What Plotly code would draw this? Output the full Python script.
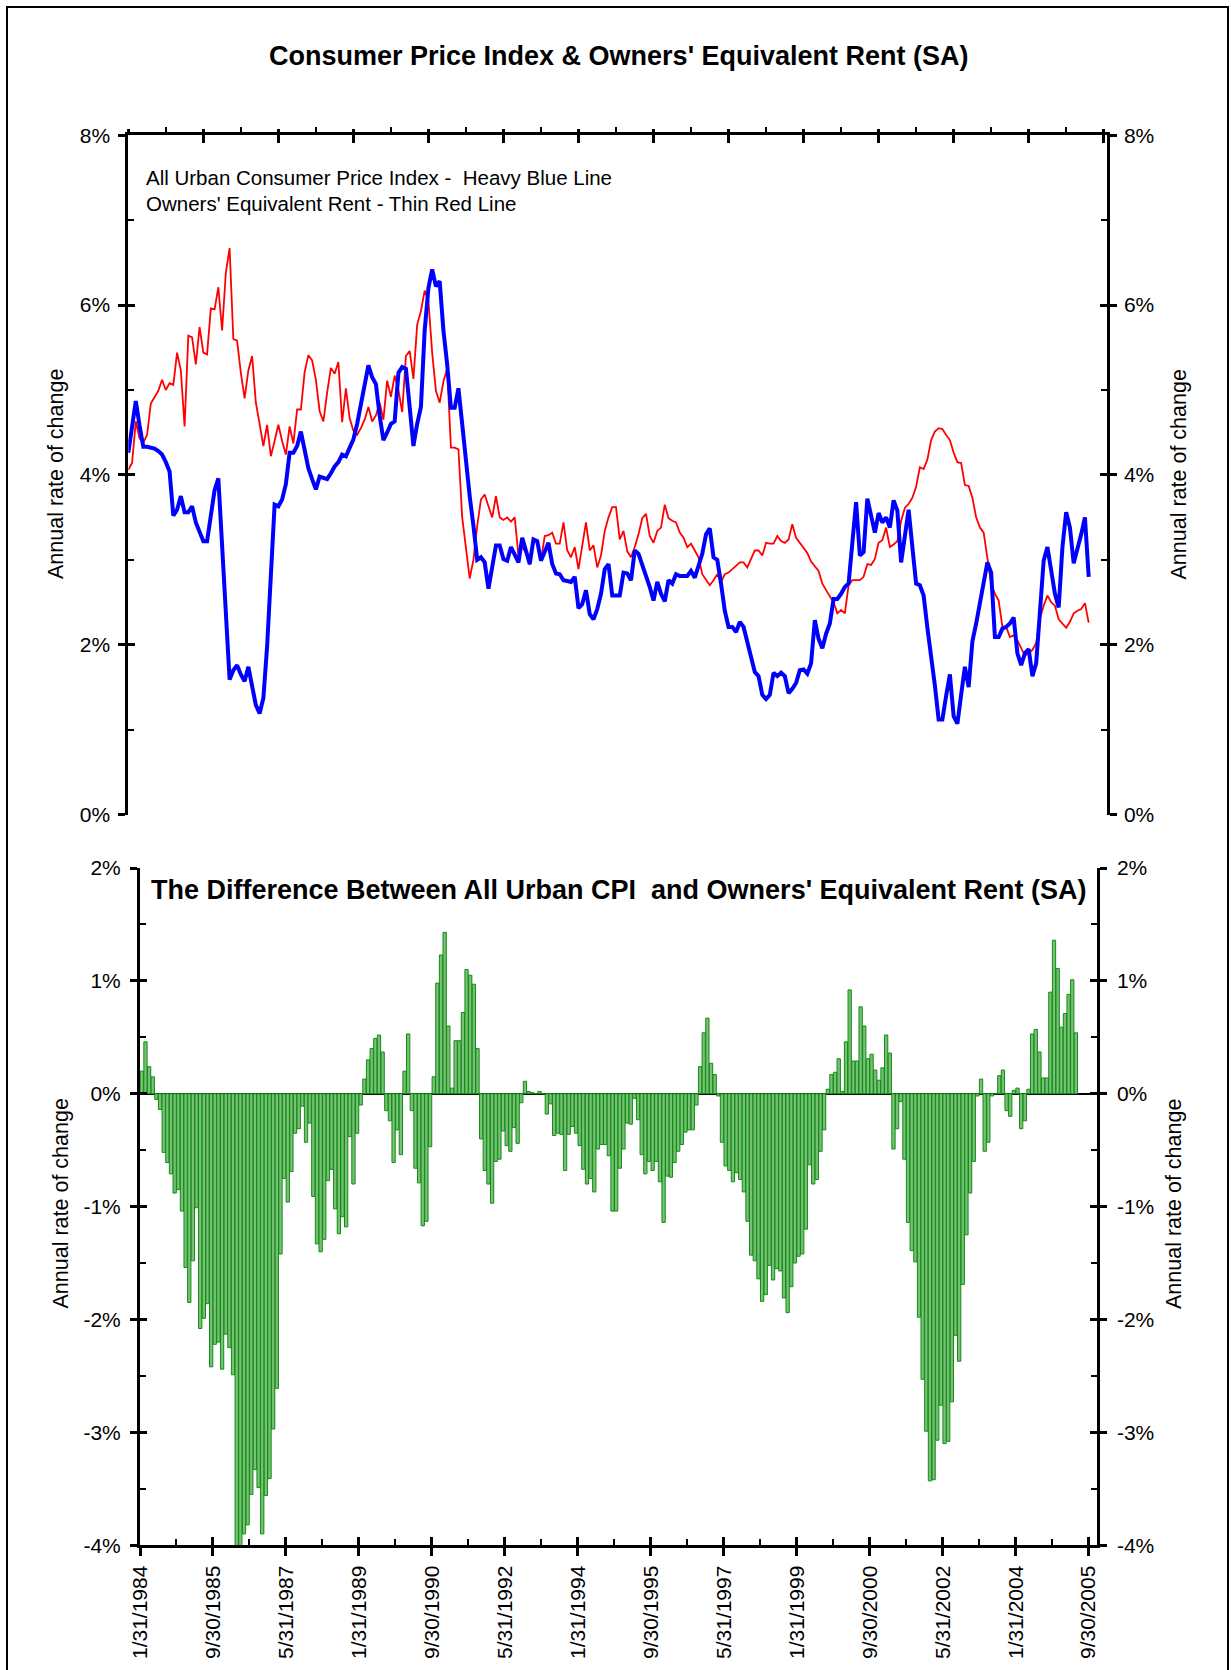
import plotly.graph_objects as go

W, H = 1231, 1670
FONT = "Arial, Liberation Sans, sans-serif"

# ---------------- data (annual rate of change, %) ----------------
# All Urban CPI, monthly, Jan 1984 .. May 2005
cpi_1984 = [4.26, 4.60, 4.87, 4.58, 4.33, 4.33, 4.32, 4.31, 4.28, 4.24, 4.15, 4.04]
cpi_1985 = [3.52, 3.59, 3.75, 3.56, 3.56, 3.63, 3.44, 3.32, 3.22, 3.22, 3.52, 3.82]
cpi_1986 = [3.96, 3.21, 2.29, 1.59, 1.70, 1.76, 1.65, 1.57, 1.74, 1.50, 1.29, 1.19]
cpi_1987 = [1.37, 1.98, 2.80, 3.65, 3.63, 3.71, 3.89, 4.26, 4.26, 4.34, 4.51, 4.30]
cpi_1988 = [4.08, 3.95, 3.83, 3.98, 3.96, 3.95, 4.02, 4.10, 4.15, 4.24, 4.22, 4.32]
cpi_1989 = [4.42, 4.60, 4.85, 5.05, 5.29, 5.15, 5.07, 4.70, 4.41, 4.50, 4.60, 4.63]
cpi_1990 = [5.20, 5.27, 5.25, 4.80, 4.34, 4.60, 4.80, 5.70, 6.20, 6.42, 6.22, 6.28]
cpi_1991 = [5.70, 5.30, 4.79, 4.79, 5.02, 4.60, 4.15, 3.75, 3.40, 3.00, 3.03, 2.97]
cpi_1992 = [2.66, 2.90, 3.17, 3.17, 3.01, 2.99, 3.15, 3.06, 2.97, 3.26, 3.10, 2.95]
cpi_1993 = [3.24, 3.22, 2.99, 3.10, 3.20, 2.95, 2.84, 2.83, 2.76, 2.75, 2.74, 2.80]
cpi_1994 = [2.43, 2.48, 2.64, 2.36, 2.30, 2.42, 2.60, 2.89, 2.95, 2.58, 2.58, 2.58]
cpi_1995 = [2.85, 2.84, 2.76, 3.11, 3.07, 2.95, 2.83, 2.68, 2.52, 2.74, 2.60, 2.51]
cpi_1996 = [2.76, 2.72, 2.83, 2.81, 2.81, 2.81, 2.87, 2.79, 2.93, 3.07, 3.30, 3.37]
cpi_1997 = [3.03, 3.00, 2.72, 2.40, 2.21, 2.21, 2.15, 2.27, 2.21, 2.04, 1.88, 1.68]
cpi_1998 = [1.63, 1.41, 1.36, 1.41, 1.67, 1.63, 1.67, 1.63, 1.43, 1.48, 1.55, 1.70]
cpi_1999 = [1.71, 1.66, 1.78, 2.29, 2.07, 1.96, 2.13, 2.25, 2.54, 2.54, 2.60, 2.68]
cpi_2000 = [2.72, 3.22, 3.68, 3.05, 3.09, 3.72, 3.54, 3.32, 3.55, 3.44, 3.50, 3.38]
cpi_2001 = [3.70, 3.58, 2.97, 3.30, 3.59, 3.15, 2.72, 2.70, 2.58, 2.20, 1.88, 1.52]
cpi_2002 = [1.12, 1.12, 1.40, 1.65, 1.16, 1.07, 1.41, 1.74, 1.50, 2.04, 2.25, 2.50]
cpi_2003 = [2.72, 2.97, 2.85, 2.09, 2.09, 2.19, 2.21, 2.25, 2.32, 1.90, 1.76, 1.90]
cpi_2004 = [1.95, 1.63, 1.78, 2.35, 2.99, 3.15, 2.87, 2.60, 2.44, 3.15, 3.56, 3.38]
cpi_2005 = [2.96, 3.11, 3.30, 3.50, 2.80]

# Owners' Equivalent Rent, monthly, Jan 1984 .. May 2005
oer_1984 = [4.06, 4.14, 4.63, 4.43, 4.38, 4.47, 4.84, 4.92, 4.99, 5.12, 5.00, 5.08]
oer_1985 = [5.06, 5.44, 5.23, 4.57, 5.64, 5.62, 5.30, 5.74, 5.44, 5.42, 5.96, 5.95]
oer_1986 = [6.21, 5.70, 6.38, 6.67, 5.60, 5.58, 5.20, 4.90, 5.23, 5.40, 4.85, 4.60]
oer_1987 = [4.34, 4.59, 4.22, 4.40, 4.59, 4.40, 4.24, 4.57, 4.37, 4.77, 4.77, 5.21]
oer_1988 = [5.41, 5.35, 5.12, 4.75, 4.63, 4.97, 5.26, 5.19, 5.33, 4.62, 5.02, 4.67]
oer_1989 = [4.52, 4.47, 4.55, 4.65, 4.80, 4.63, 4.70, 4.85, 4.65, 5.11, 4.92, 5.17]
oer_1990 = [5.00, 4.74, 5.40, 5.46, 5.13, 5.77, 5.93, 6.17, 6.05, 5.44, 4.99, 4.85]
oer_1991 = [5.10, 5.25, 4.32, 4.32, 4.30, 3.50, 3.10, 2.78, 3.00, 3.40, 3.71, 3.77]
oer_1992 = [3.63, 3.50, 3.75, 3.50, 3.47, 3.50, 3.45, 3.50, 3.05, 3.15, 3.08, 2.94]
oer_1993 = [3.24, 3.20, 2.99, 3.28, 3.29, 3.32, 3.19, 3.19, 3.44, 3.11, 3.03, 3.15]
oer_1994 = [2.89, 3.15, 3.44, 3.11, 3.17, 2.91, 3.05, 3.34, 3.50, 3.62, 3.62, 3.24]
oer_1995 = [3.34, 3.10, 3.03, 3.15, 3.30, 3.49, 3.54, 3.28, 3.20, 3.34, 3.38, 3.65]
oer_1996 = [3.49, 3.46, 3.44, 3.32, 3.26, 3.15, 3.19, 3.11, 3.03, 2.83, 2.76, 2.70]
oer_1997 = [2.76, 2.83, 2.74, 2.83, 2.85, 2.89, 2.93, 2.97, 2.97, 2.91, 3.01, 3.11]
oer_1998 = [3.11, 3.05, 3.20, 3.19, 3.19, 3.28, 3.22, 3.20, 3.24, 3.42, 3.26, 3.20]
oer_1999 = [3.15, 3.08, 2.98, 2.92, 2.87, 2.72, 2.64, 2.57, 2.50, 2.37, 2.41, 2.37]
oer_2000 = [2.70, 2.76, 2.76, 2.76, 2.80, 2.95, 2.94, 3.01, 3.20, 3.23, 3.38, 3.15]
oer_2001 = [3.18, 3.22, 3.46, 3.61, 3.66, 3.73, 3.86, 4.09, 4.07, 4.18, 4.41, 4.51]
oer_2002 = [4.55, 4.54, 4.47, 4.41, 4.26, 4.15, 4.14, 3.88, 3.87, 3.73, 3.50, 3.38]
oer_2003 = [3.32, 2.99, 2.72, 2.60, 2.52, 2.21, 2.21, 2.09, 2.11, 2.05, 1.96, 1.87]
oer_2004 = [1.90, 1.94, 2.02, 2.31, 2.46, 2.58, 2.50, 2.46, 2.30, 2.25, 2.20, 2.27]
oer_2005 = [2.37, 2.40, 2.42, 2.49, 2.26]

# x-axis date labels (every 20 months starting 1/31/1984)
date_labels = ["1/31/1984", "9/30/1985", "5/31/1987", "1/31/1989", "9/30/1990",
               "5/31/1992", "1/31/1994", "9/30/1995", "5/31/1997", "1/31/1999",
               "9/30/2000", "5/31/2002", "1/31/2004", "9/30/2005"]

top_pct_vals = [0, 2, 4, 6, 8]
bot_pct_vals = [-4, -3, -2, -1, 0, 1, 2]

# ---------------- assemble ----------------
cpi = (cpi_1984 + cpi_1985 + cpi_1986 + cpi_1987 + cpi_1988 + cpi_1989 + cpi_1990 +
       cpi_1991 + cpi_1992 + cpi_1993 + cpi_1994 + cpi_1995 + cpi_1996 + cpi_1997 +
       cpi_1998 + cpi_1999 + cpi_2000 + cpi_2001 + cpi_2002 + cpi_2003 + cpi_2004 + cpi_2005)
oer = (oer_1984 + oer_1985 + oer_1986 + oer_1987 + oer_1988 + oer_1989 + oer_1990 +
       oer_1991 + oer_1992 + oer_1993 + oer_1994 + oer_1995 + oer_1996 + oer_1997 +
       oer_1998 + oer_1999 + oer_2000 + oer_2001 + oer_2002 + oer_2003 + oer_2004 + oer_2005)
months = list(range(len(cpi)))
diff = [round(c - o, 3) for c, o in zip(cpi, oer)]


def fx(px):
    return px / W


def fy(py):
    return 1 - py / H


top_x_dom = [fx(128.3), fx(1106.7)]
top_y_dom = [fy(814.6), fy(135.2)]
bot_x_dom = [fx(140.0), fx(1096.7)]
bot_y_dom = [fy(1545.2), fy(868.0)]

top_xrange = [0, 260.8]
bot_xrange = [-0.5, 261.7]
top_major = [20 * k for k in range(14)]
top_minor = [10 + 20 * k for k in range(13)]
bot_major = [-0.5 + 20 * k for k in range(14)]
bot_minor = [9.5 + 20 * k for k in range(13)]

tickfont = dict(family=FONT, size=21, color="black")
common = dict(showgrid=False, zeroline=False, fixedrange=True, automargin=False,
              tickcolor="black", linecolor="black", tickfont=tickfont)

fig = go.Figure()

# top panel lines
fig.add_trace(go.Scatter(x=months, y=oer, mode="lines", xaxis="x", yaxis="y",
                         line=dict(color="#FF0000", width=1.8), hoverinfo="skip"))
fig.add_trace(go.Scatter(x=months, y=cpi, mode="lines", xaxis="x", yaxis="y",
                         line=dict(color="#0000FF", width=4), hoverinfo="skip"))
# bottom panel bars
fig.add_trace(go.Bar(x=months, y=diff, xaxis="x2", yaxis="y5",
                     marker=dict(color="#78C078", line=dict(color="#118C11", width=1)),
                     hoverinfo="skip"))

# dummy traces so overlay axes (used for crossing tick marks) are drawn
for xa, ya in [("x3", "y"), ("x", "y2"), ("x", "y3"), ("x", "y4"),
               ("x4", "y5"), ("x2", "y6"), ("x2", "y7"), ("x2", "y8")]:
    fig.add_trace(go.Scatter(x=[], y=[], xaxis=xa, yaxis=ya, mode="lines",
                             hoverinfo="skip", showlegend=False))

pct_top_text = [f"{v}%" for v in top_pct_vals]
pct_bot_text = [f"{v}%" for v in bot_pct_vals]
minor_bot = [-3.5, -2.5, -1.5, -0.5, 0.5, 1.5]

layout = dict(
    width=W, height=H, autosize=False,
    margin=dict(l=0, r=0, t=0, b=0, pad=0, autoexpand=False),
    paper_bgcolor="white", plot_bgcolor="white", showlegend=False,
    bargap=0.1,
    # ---- top panel ----
    xaxis=dict(domain=top_x_dom, range=top_xrange, anchor="y", side="top",
               showline=True, linewidth=3, ticks="inside", ticklen=8, tickwidth=2.5,
               tickmode="array", tickvals=top_major, showticklabels=False,
               minor=dict(ticks="outside", ticklen=5, tickwidth=2, tickmode="array",
                          tickvals=top_minor, tickcolor="black", showgrid=False),
               **common),
    xaxis3=dict(overlaying="x", anchor="y", side="top", range=top_xrange,
                showline=False, ticks="outside", ticklen=5, tickwidth=2.5,
                tickmode="array", tickvals=top_major, showticklabels=False, **common),
    yaxis=dict(domain=top_y_dom, range=[0, 8], anchor="x", side="left",
               showline=True, linewidth=3, ticks="outside", ticklen=7, tickwidth=2.5,
               tickmode="array", tickvals=top_pct_vals, ticktext=pct_top_text,
               ticklabelstandoff=4,
               minor=dict(ticks="inside", ticklen=6, tickwidth=2, tickmode="array",
                          tickvals=[1, 3, 5, 7], tickcolor="black", showgrid=False),
               **common),
    yaxis3=dict(overlaying="y", anchor="x", side="left", range=[0, 8],
                showline=False, ticks="inside", ticklen=7, tickwidth=2.5,
                tickmode="array", tickvals=top_pct_vals, showticklabels=False, **common),
    yaxis2=dict(overlaying="y", anchor="x", side="right", range=[0, 8],
                showline=True, linewidth=3, ticks="outside", ticklen=7, tickwidth=2.5,
                tickmode="array", tickvals=top_pct_vals, ticktext=pct_top_text,
                ticklabelstandoff=3,
                minor=dict(ticks="inside", ticklen=6, tickwidth=2, tickmode="array",
                           tickvals=[1, 3, 5, 7], tickcolor="black", showgrid=False),
                **common),
    yaxis4=dict(overlaying="y", anchor="x", side="right", range=[0, 8],
                showline=False, ticks="inside", ticklen=7, tickwidth=2.5,
                tickmode="array", tickvals=top_pct_vals, showticklabels=False, **common),
    # ---- bottom panel ----
    xaxis2=dict(domain=bot_x_dom, range=bot_xrange, anchor="y5", side="bottom",
                showline=True, linewidth=3, ticks="outside", ticklen=8, tickwidth=2.5,
                tickmode="array", tickvals=bot_major, ticktext=date_labels,
                tickangle=-90, ticklabelstandoff=1,
                minor=dict(ticks="inside", ticklen=6, tickwidth=2, tickmode="array",
                           tickvals=bot_minor, tickcolor="black", showgrid=False),
                **common),
    xaxis4=dict(overlaying="x2", anchor="y5", side="bottom", range=bot_xrange,
                showline=False, ticks="inside", ticklen=8, tickwidth=2.5,
                tickmode="array", tickvals=bot_major, showticklabels=False, **common),
    yaxis5=dict(domain=bot_y_dom, range=[-4, 2], anchor="x2", side="left",
                showline=True, linewidth=3, ticks="outside", ticklen=7, tickwidth=2.5,
                tickmode="array", tickvals=bot_pct_vals, ticktext=pct_bot_text,
                ticklabelstandoff=5,
                minor=dict(ticks="inside", ticklen=6, tickwidth=2, tickmode="array",
                           tickvals=minor_bot, tickcolor="black", showgrid=False),
                showgrid=False, fixedrange=True, automargin=False,
                tickcolor="black", linecolor="black",
                tickfont=tickfont, zeroline=True, zerolinecolor="black", zerolinewidth=2),
    yaxis6=dict(overlaying="y5", anchor="x2", side="right", range=[-4, 2],
                showline=True, linewidth=3, ticks="outside", ticklen=7, tickwidth=2.5,
                tickmode="array", tickvals=bot_pct_vals, ticktext=pct_bot_text,
                ticklabelstandoff=6,
                minor=dict(ticks="inside", ticklen=6, tickwidth=2, tickmode="array",
                           tickvals=minor_bot, tickcolor="black", showgrid=False),
                **common),
    yaxis7=dict(overlaying="y5", anchor="x2", side="left", range=[-4, 2],
                showline=False, ticks="inside", ticklen=7, tickwidth=2.5,
                tickmode="array", tickvals=bot_pct_vals, showticklabels=False, **common),
    yaxis8=dict(overlaying="y5", anchor="x2", side="right", range=[-4, 2],
                showline=False, ticks="inside", ticklen=7, tickwidth=2.5,
                tickmode="array", tickvals=bot_pct_vals, showticklabels=False, **common),
)
fig.update_layout(**layout)


def ann(text, px, py, size, xanchor="center", angle=0, bold=False):
    t = f"<b>{text}</b>" if bold else text
    fig.add_annotation(text=t, x=fx(px), y=fy(py), xref="paper", yref="paper",
                       xanchor=xanchor, yanchor="middle", showarrow=False,
                       textangle=angle,
                       font=dict(family=FONT, size=size, color="black"))


ann("Consumer Price Index &amp; Owners' Equivalent Rent (SA)", 618.5, 56.5, 27, bold=True)
ann("All Urban Consumer Price Index -\u00a0 Heavy Blue Line", 144, 177, 20.5, xanchor="left")
ann("Owners' Equivalent Rent - Thin Red Line", 144, 203.5, 20.5, xanchor="left")
ann("The Difference Between All Urban CPI\u00a0 and Owners' Equivalent Rent (SA)",
    618.5, 890, 27, bold=True)
ann("Annual rate of change", 55.5, 474.5, 21.5, angle=-90)
ann("Annual rate of change", 1178, 474.5, 21.5, angle=-90)
ann("Annual rate of change", 60.5, 1204, 21.5, angle=-90)
ann("Annual rate of change", 1174, 1204, 21.5, angle=-90)

# outer frame (its lower edge lies below the visible page)
fig.add_shape(type="rect", xref="paper", yref="paper",
              x0=fx(7), x1=fx(1228), y0=fy(1680), y1=fy(7),
              line=dict(color="black", width=2), fillcolor="rgba(0,0,0,0)")

# page without default body margins so the figure sits at the window origin
reset_css = ("document.documentElement.style.margin='0';"
             "document.documentElement.style.padding='0';"
             "document.body.style.margin='0';"
             "document.body.style.padding='0';"
             "document.documentElement.style.overflow='hidden';"
             "document.body.style.overflow='hidden';")

fig.write_html("out.html", post_script=reset_css,
               config={"displayModeBar": False, "responsive": False})
